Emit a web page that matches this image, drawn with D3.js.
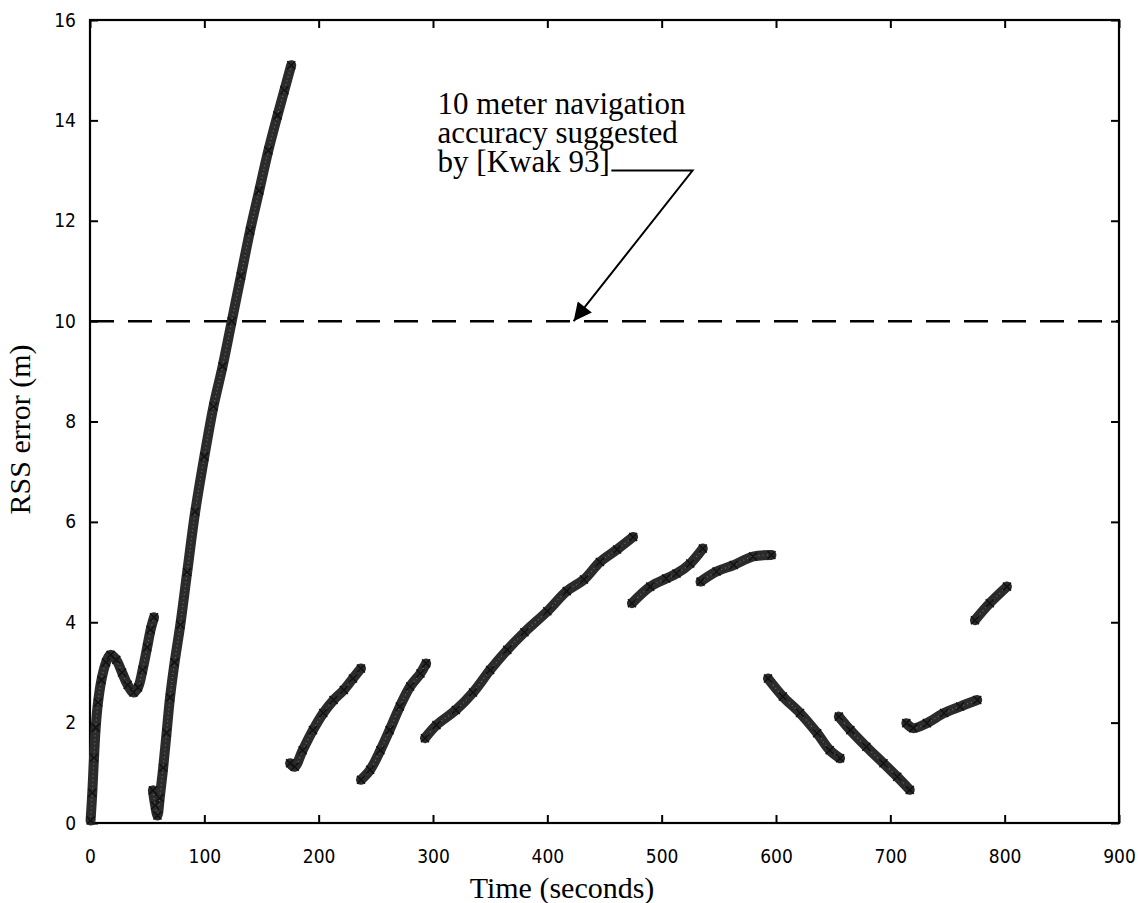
<!DOCTYPE html>
<html>
<head>
<meta charset="utf-8">
<script src="https://cdn.jsdelivr.net/npm/d3@7"></script>
<style>
  body { margin: 0; background: #fff; }
  .tick text { font-family: "DejaVu Sans Condensed", "DejaVu Sans", sans-serif; font-stretch: condensed; font-size: 19px; fill: #000; }
  .title { font-family: "Liberation Serif", "Times New Roman", serif; font-size: 30px; fill: #000; }
  .note { font-family: "Liberation Serif", "Times New Roman", serif; font-size: 31px; fill: #000; }
</style>
</head>
<body>
<svg id="chart" width="1138" height="903"></svg>
<script>
// RSS error traces, one array per run (time s, error m)
const segA = [[0.5,0.05],[2,0.6],[3.5,1.3],[5,1.9],[7,2.4],[10,2.85],[14,3.2],[18,3.35],[23,3.25],[28,3.0],[33,2.75],[38,2.6],[42,2.7],[46,3.05],[50,3.5],[53,3.85],[56,4.1]];
const segB = [[55,0.65],[57,0.35],[59,0.15],[61,0.5],[64,1.1],[67,1.8],[70,2.5],[74,3.2],[79,3.95],[85,5.0],[92,6.2],[100,7.3],[108,8.3],[116,9.1],[124,10.0],[132,10.9],[140,11.8],[148,12.6],[156,13.4],[164,14.1],[170,14.6],[176,15.1]];
const segC = [[175,1.19],[179,1.12],[186,1.45],[195,1.85],[204,2.19],[213,2.45],[222,2.65],[230,2.88],[237,3.08]];
const segD = [[237,0.86],[245,1.06],[254,1.45],[262,1.85],[271,2.32],[280,2.72],[289,2.98],[294,3.18]];
const segE = [[293,1.69],[303,1.95],[320,2.25],[335,2.6],[350,3.05],[365,3.45],[380,3.8],[400,4.22],[417,4.62],[432,4.85],[446,5.2],[461,5.45],[475,5.7]];
const segF = [[474,4.38],[490,4.71],[504,4.87],[513,4.97],[525,5.17],[536,5.47]];
const segG = [[534,4.81],[548,5.01],[563,5.14],[580,5.31],[596,5.34]];
const segH = [[593,2.88],[606,2.52],[621,2.19],[636,1.79],[647,1.45],[656,1.29]];
const segI = [[655,2.12],[665,1.85],[679,1.52],[694,1.19],[706,0.92],[717,0.66]];
const segJ = [[714,1.99],[720,1.89],[732,1.99],[747,2.19],[761,2.32],[776,2.45]];
const segK = [[774,4.04],[787,4.38],[802,4.71]];
const segments = [segA, segB, segC, segD, segE, segF, segG, segH, segI, segJ, segK];

const xTicks = [0, 100, 200, 300, 400, 500, 600, 700, 800, 900];
const yTicks = [0, 2, 4, 6, 8, 10, 12, 14, 16];
const threshold = 10;

// annotation anchor points (data units)
const noteLines = ['10 meter navigation', 'accuracy suggested', 'by [Kwak 93]'];
const notePos = [304, 14.12];
const arrowPts = [[456, 13.0], [527, 13.0], [423, 10.0]];

const svg = d3.select('#chart');
const x = d3.scaleLinear().domain([0, 900]).range([90, 1119]);
const y = d3.scaleLinear().domain([0, 16]).range([823, 20]);

// Frame
svg.append('rect')
    .attr('x', x(0)).attr('y', y(16))
    .attr('width', x(900) - x(0)).attr('height', y(0) - y(16))
    .attr('fill', 'none').attr('stroke', '#000').attr('stroke-width', 2.2);

// Axes with inward ticks
svg.append('g').attr('transform', `translate(0,${y(0)})`)
    .call(d3.axisBottom(x).tickValues(xTicks).tickSizeInner(-8).tickSizeOuter(0).tickPadding(27))
    .call(g => g.select('.domain').remove())
    .call(g => g.selectAll('line').attr('stroke-width', 2));
svg.append('g').attr('transform', `translate(0,${y(16)})`)
    .call(d3.axisTop(x).tickValues(xTicks).tickSizeInner(-8).tickSizeOuter(0).tickFormat(''))
    .call(g => g.select('.domain').remove())
    .call(g => g.selectAll('line').attr('stroke-width', 2));
svg.append('g').attr('transform', `translate(${x(0)},0)`)
    .call(d3.axisLeft(y).tickValues(yTicks).tickSizeInner(-8).tickSizeOuter(0).tickPadding(14))
    .call(g => g.select('.domain').remove())
    .call(g => g.selectAll('line').attr('stroke-width', 2));
svg.append('g').attr('transform', `translate(${x(900)},0)`)
    .call(d3.axisRight(y).tickValues(yTicks).tickSizeInner(-8).tickSizeOuter(0).tickFormat(''))
    .call(g => g.select('.domain').remove())
    .call(g => g.selectAll('line').attr('stroke-width', 2));

// Axis titles
svg.append('text').attr('class', 'title')
    .attr('x', 562).attr('y', 898).attr('text-anchor', 'middle')
    .text('Time (seconds)');
svg.append('text').attr('class', 'title')
    .attr('transform', `translate(30,${y(8) + 8}) rotate(-90)`)
    .attr('text-anchor', 'middle')
    .text('RSS error (m)');

// 10 m threshold
svg.append('line')
    .attr('x1', x(0)).attr('x2', x(900))
    .attr('y1', y(threshold)).attr('y2', y(threshold))
    .attr('stroke', '#000').attr('stroke-width', 2.5)
    .attr('stroke-dasharray', '24,14');

// Traces
const line = d3.line().x(d => x(d[0])).y(d => y(d[1])).curve(d3.curveCatmullRom);
const traces = svg.append('g');
segments.forEach(seg => {
    traces.append('path').datum(seg)
        .attr('d', line)
        .attr('fill', 'none').attr('stroke', '#2b2b2b')
        .attr('stroke-width', 10).attr('stroke-linecap', 'round').attr('stroke-linejoin', 'round');
    traces.append('path').datum(seg)
        .attr('d', line)
        .attr('fill', 'none').attr('stroke', '#9a9a9a')
        .attr('stroke-width', 1.2).attr('stroke-dasharray', '1,3').attr('opacity', 0.6);
    traces.selectAll(null).data(seg).enter().append('path')
        .attr('transform', d => `translate(${x(d[0])},${y(d[1])})`)
        .attr('d', 'M-4,-4L4,4M-4,4L4,-4')
        .attr('stroke', '#111').attr('stroke-width', 1.5);
});

// Annotation
const note = svg.append('text').attr('class', 'note')
    .attr('x', x(notePos[0])).attr('y', y(notePos[1]));
noteLines.forEach((t, i) => {
    note.append('tspan').attr('x', x(notePos[0])).attr('dy', i === 0 ? 0 : 29).text(t);
});

svg.append('defs').append('marker')
    .attr('id', 'head').attr('viewBox', '0 0 10 10')
    .attr('refX', 10).attr('refY', 5)
    .attr('markerWidth', 30).attr('markerHeight', 18)
    .attr('markerUnits', 'userSpaceOnUse').attr('orient', 'auto')
    .append('path').attr('d', 'M0,0L10,5L0,10Z').attr('fill', '#000');

svg.append('path')
    .datum(arrowPts)
    .attr('d', d3.line().x(d => x(d[0])).y(d => y(d[1])))
    .attr('fill', 'none').attr('stroke', '#000').attr('stroke-width', 2)
    .attr('marker-end', 'url(#head)');
</script>
</body>
</html>
